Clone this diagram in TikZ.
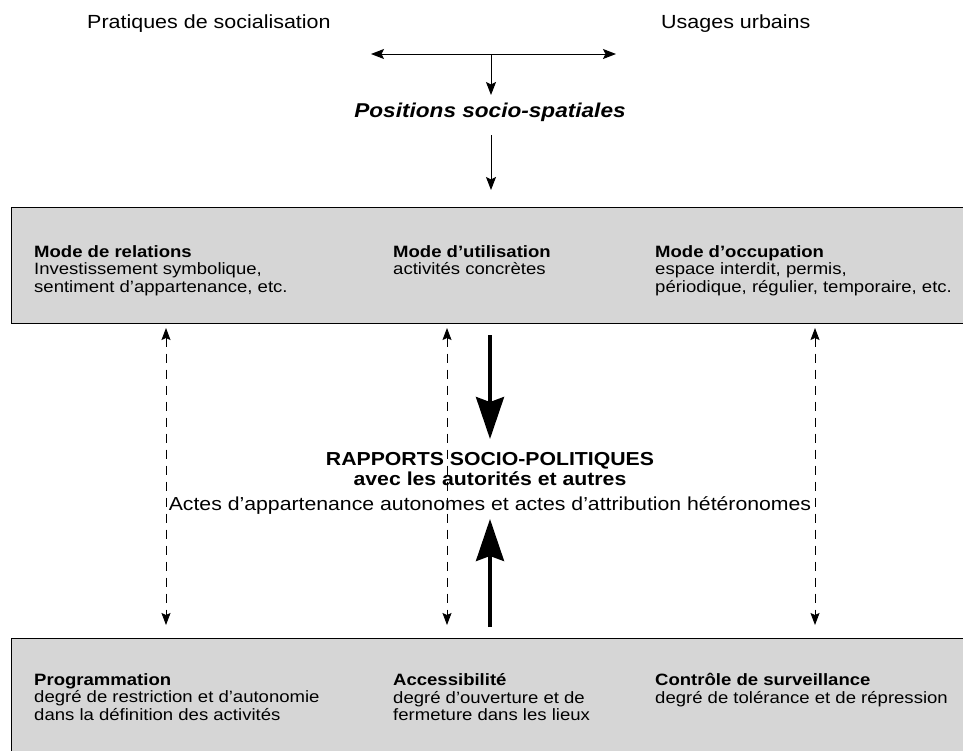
\documentclass[tikz,border=0pt]{standalone}
\usepackage{fontspec}
\setmainfont{Liberation Sans}[FakeStretch=1.13]
\usetikzlibrary{arrows.meta}
\begin{document}
\begin{tikzpicture}[x=1pt,y=-1pt,
  toptxt/.style={font=\fontsize{19}{21}\selectfont, inner sep=0pt, anchor=base west},
  boxtxt/.style={font=\fontsize{16.4}{17.5}\selectfont, inner sep=0pt, anchor=north west, align=left},
  midtxt/.style={font=\fontsize{18.8}{21}\selectfont, inner sep=0pt, anchor=base},
  panel/.style={draw=black, line width=0.9pt, fill=black!16, anchor=north west, inner sep=0pt},
  thin/.style={line width=1pt, -{Stealth[length=13pt,width=10pt,inset=2.5pt]}},
  thinboth/.style={line width=1pt, {Stealth[length=13pt,width=10pt,inset=2.5pt]}-{Stealth[length=13pt,width=10pt,inset=2.5pt]}},
  dasharrow/.style={line width=0.9pt, dash pattern=on 9pt off 7pt, {Stealth[length=12pt,width=9pt,inset=2pt]}-{Stealth[length=12pt,width=9pt,inset=2pt]}},
  bigarrow/.style={line width=3.5pt, -{Stealth[length=42pt,width=28pt,inset=5pt]}}
]
\clip (0,0) rectangle (963,750);
\fill[white] (0,0) rectangle (963,750);

% top texts
\node[toptxt] (prat) at (87,28) {Pratiques de socialisation};
\node[toptxt] (usag) at (661,28) {Usages urbains};
\coordinate (hl) at (371,54);
\coordinate (hr) at (616,54);
\coordinate (hm) at (491,54);
\draw[thinboth] (hl) -- (hr);
\node[font=\fontsize{20}{22}\selectfont\bfseries\itshape, inner sep=0pt, anchor=base] (pos) at (490,117) {Positions socio-spatiales};
\coordinate (posin) at (491,95);
\draw[thin] (hm) -- (posin);

% top panel
\node[panel, minimum width=980pt, minimum height=116pt] (topbox) at (11,207) {};
\coordinate (posout) at (491,135);
\coordinate (topin) at (491,190);
\draw[thin] (posout) -- (topin);

\node[boxtxt] (mrel) at (34,245.3) {\textbf{Mode de relations}\\Investissement symbolique,\\sentiment d'appartenance, etc.};
\node[boxtxt] (mutil) at (393,245.3) {\textbf{Mode d'utilisation}\\activités concrètes};
\node[boxtxt] (mocc) at (655,245.3) {\textbf{Mode d'occupation}\\espace interdit, permis,\\périodique, régulier, temporaire, etc.};

% bottom panel
\node[panel, minimum width=980pt, minimum height=130pt] (botbox) at (11,638) {};
\node[boxtxt] (prog) at (34,673.3) {\textbf{Programmation}\\degré de restriction et d'autonomie\\dans la définition des activités};
\node[boxtxt] (acc) at (393,673.3) {\textbf{Accessibilité}\\degré d'ouverture et de\\fermeture dans les lieux};
\node[boxtxt] (ctrl) at (655,673.3) {\textbf{Contrôle de surveillance}\\degré de tolérance et de répression};

% middle
\node[midtxt, font=\fontsize{18.8}{21}\selectfont\bfseries] (mid1) at (490,465) {RAPPORTS SOCIO-POLITIQUES};
\node[midtxt, font=\fontsize{18.8}{21}\selectfont\bfseries] (mid2) at (490,485) {avec les autorités et autres};
\node[midtxt] (mid3) at (490,510) {Actes d'appartenance autonomes et actes d'attribution hétéronomes};

% dashed double arrows
\coordinate (d1t) at (166,328); \coordinate (d1b) at (166,625);
\coordinate (d2t) at (447,328); \coordinate (d2b) at (447,625);
\coordinate (d3t) at (815,328); \coordinate (d3b) at (815,625);
\draw[dasharrow] (d1t) -- (d1b);
\draw[dasharrow] (d2t) -- (d2b);
\draw[dasharrow] (d3t) -- (d3b);

% thick arrows
\coordinate (tks) at (490,335); \coordinate (tke) at (490,439);
\coordinate (tbs) at (490,627); \coordinate (tbe) at (490,519);
\draw[bigarrow] (tks) -- (tke);
\draw[bigarrow] (tbs) -- (tbe);
\end{tikzpicture}
\end{document}
